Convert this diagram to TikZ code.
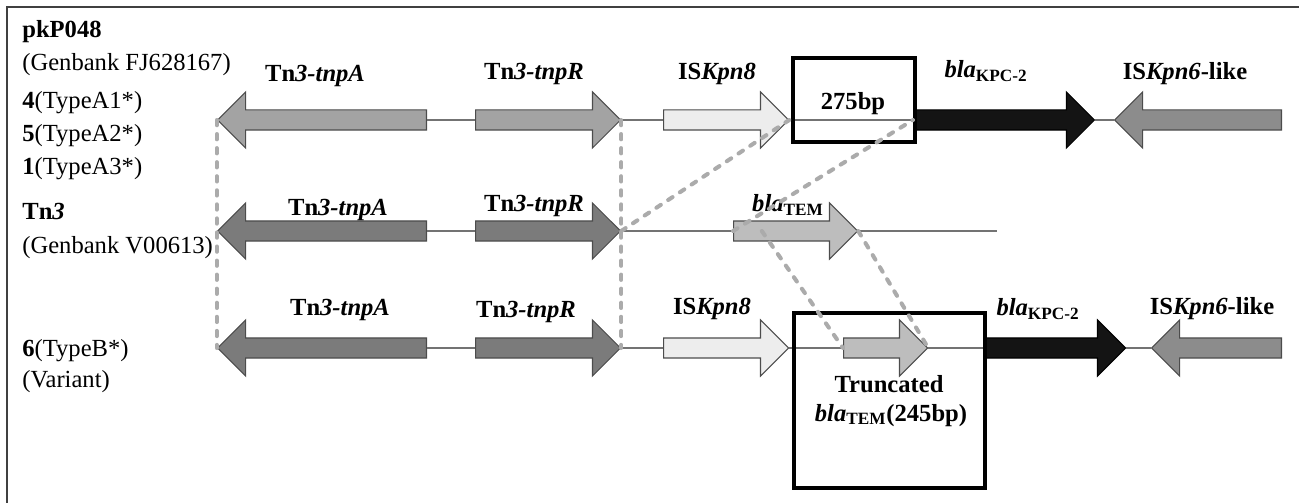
\documentclass[tikz,border=0pt]{standalone}
\usepackage{fontspec}
\setmainfont{Liberation Serif}
\usetikzlibrary{shapes.arrows,calc}

\definecolor{tnplight}{HTML}{A3A3A3}
\definecolor{tnpdark}{HTML}{7B7B7B}
\definecolor{kpneight}{HTML}{EDEDED}
\definecolor{temgray}{HTML}{BDBDBD}
\definecolor{kpcblack}{HTML}{141414}
\definecolor{kpnsix}{HTML}{8C8C8C}

\tikzset{
  gene/.style={single arrow, draw=black!70, line width=0.6pt,
    inner xsep=0pt, inner ysep=0.19cm, single arrow head extend=0.36cm,
    single arrow tip angle=90, anchor=tail},
  leftgene/.style={gene, shape border rotate=180},
  spacer/.style={draw=black!55, line width=0.6pt},
  lbl/.style={font=\fontsize{14}{16}\selectfont\bfseries, inner sep=0pt, anchor=base},
  side/.style={font=\fontsize{14}{16}\selectfont, inner sep=0pt, anchor=base west},
  bpbox/.style={draw=black, line width=2.8pt, inner sep=0pt},
  homology/.style={draw=black!33, line width=2.3pt, dash pattern=on 3pt off 5pt, line cap=round},
}

\begin{document}
\begin{tikzpicture}[x=0.02cm, y=-0.02cm]
\useasboundingbox (0,0) rectangle (1299,503);
% frame
\draw[black!75, line width=0.8pt] (7,503) -- (7,7) -- (1299,7);

% strain names
\node[side] (pk) at (22,38) {\textbf{pkP048}};
\node[side] (gbpk) at (22,71) {(Genbank FJ628167)};
\node[side] (ta1) at (22,109) {\textbf{4}(TypeA1*)};
\node[side] (ta2) at (22,142) {\textbf{5}(TypeA2*)};
\node[side] (ta3) at (22,175) {\textbf{1}(TypeA3*)};
\node[side] (tn) at (22,220) {\textbf{Tn\textit{3}}};
\node[side] (gbtn) at (22,254) {(Genbank V00613)};
\node[side] (tb) at (22,357) {\textbf{6}(TypeB*)};
\node[side] (var) at (22,388) {(Variant)};

% pkP048 row
\node[leftgene, fill=tnplight, minimum height=4.18cm] (tnpA1) at (427,120) {};
\node[gene, fill=tnplight, minimum height=2.9cm] (tnpR1) at (475,120) {};
\node[gene, fill=kpneight, minimum height=2.5cm] (kpn8a) at (663,120) {};
\node[gene, draw=black, fill=kpcblack, minimum height=3.62cm] (kpc1) at (913,120) {};
\node[leftgene, fill=kpnsix, minimum height=3.34cm] (kpn6a) at (1282,120) {};
\draw[spacer] (tnpA1.tail) -- (tnpR1.tail);
\draw[spacer] (tnpR1.tip) -- (kpn8a.tail);
\draw[spacer] (kpn8a.tip) -- (kpc1.tail);
\draw[spacer] (kpc1.tip) -- (kpn6a.tip);
\node[bpbox, minimum width=2.44cm, minimum height=1.68cm] (box275) at (854,100) {};

% Tn3 row
\node[leftgene, fill=tnpdark, minimum height=4.18cm] (tnpA2) at (427,231) {};
\node[gene, fill=tnpdark, minimum height=2.9cm] (tnpR2) at (475,231) {};
\node[gene, fill=temgray, minimum height=2.48cm] (tem) at (733,231) {};
\coordinate (tnend) at (997,231);
\draw[spacer] (tnpA2.tail) -- (tnpR2.tail);
\draw[spacer] (tnpR2.tip) -- (tem.tail);
\draw[spacer] (tem.tip) -- (tnend);

% variant row
\node[leftgene, fill=tnpdark, minimum height=4.18cm] (tnpA3) at (427,348) {};
\node[gene, fill=tnpdark, minimum height=2.9cm] (tnpR3) at (475,348) {};
\node[gene, fill=kpneight, minimum height=2.5cm] (kpn8b) at (663,348) {};
\node[gene, fill=temgray, minimum height=1.68cm] (temtr) at (843,348) {};
\node[gene, draw=black, fill=kpcblack, minimum height=2.8cm] (kpc3) at (985,348) {};
\node[leftgene, fill=kpnsix, minimum height=2.6cm] (kpn6b) at (1282,348) {};
\draw[spacer] (tnpA3.tail) -- (tnpR3.tail);
\draw[spacer] (tnpR3.tip) -- (kpn8b.tail);
\draw[spacer] (kpn8b.tip) -- (temtr.tail);
\draw[spacer] (temtr.tip) -- (kpc3.tail);
\draw[spacer] (kpc3.tip) -- (kpn6b.tip);
\node[bpbox, minimum width=3.82cm, minimum height=3.5cm] (box245) at (889.5,400.5) {};

% gene names
\node[lbl] (ltnpA1) at (315,82) {Tn\textit{3-tnpA}};
\node[lbl] (ltnpR1) at (534,80) {Tn\textit{3-tnpR}};
\node[lbl] (lkpn8a) at (717,80) {IS\textit{Kpn8}};
\node[lbl] (l275) at (853,110) {275bp};
\node[lbl] (lkpc1) at (986,78) {\textit{bla}\textsubscript{KPC-2}};
\node[lbl] (lkpn6a) at (1185,80) {IS\textit{Kpn6}-like};
\node[lbl] (ltnpA2) at (338,216) {Tn\textit{3-tnpA}};
\node[lbl] (ltnpR2) at (534,212) {Tn\textit{3-tnpR}};
\node[lbl] (ltem) at (788,212) {\textit{bla}\textsubscript{TEM}};
\node[lbl] (ltnpA3) at (340,316) {Tn\textit{3-tnpA}};
\node[lbl] (ltnpR3) at (526,317) {Tn\textit{3-tnpR}};
\node[lbl] (lkpn8b) at (712,315) {IS\textit{Kpn8}};
\node[lbl] (lkpc3) at (1038,316) {\textit{bla}\textsubscript{KPC-2}};
\node[lbl] (lkpn6b) at (1212,315) {IS\textit{Kpn6}-like};
\node[lbl] (ltrunc) at (889,393) {Truncated};
\node[lbl] (ltrunc2) at (891,421) {\textit{bla}\textsubscript{TEM}(245bp)};

% homologous stretches
\draw[homology] (tnpA1.tip) -- (tnpA3.tip);
\draw[homology] (tnpR1.tip) -- (tnpR3.tip);
\draw[homology] (tnpR2.tip) -- (kpn8a.tip);
\draw[homology] (tem.tail) -- (kpc1.tail);
\draw[homology] ($(tem.tail)!0.23!(tem.tip)$) -- (temtr.tail);
\draw[homology] (tem.tip) -- (temtr.tip);
\end{tikzpicture}
\end{document}
